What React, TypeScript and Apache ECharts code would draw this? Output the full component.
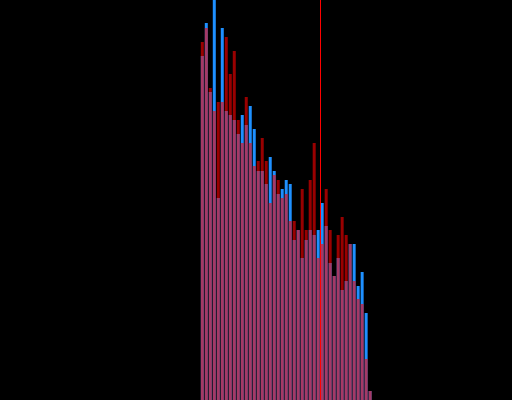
import React, { useEffect, useRef } from "react";
import * as echarts from "echarts";

// histogram bins 0..127; data present from bin 50 onward
const BIN_COUNT = 128;
const FIRST_BIN = 50;
const blueCounts = [344, 377, 308, 400, 202, 372, 289, 285, 280, 266, 285, 275, 294, 271, 229, 229, 216, 243, 229, 206, 211, 220, 216, 160, 170, 142, 160, 170, 165, 170, 197, 174, 137, 124, 142, 110, 119, 156, 156, 114, 128, 87, 9];
const redCounts = [358, 372, 312, 289, 298, 298, 363, 326, 349, 280, 257, 303, 257, 234, 239, 262, 239, 197, 225, 220, 202, 206, 179, 179, 170, 211, 170, 220, 257, 142, 156, 211, 170, 124, 165, 183, 165, 156, 119, 101, 96, 41, 9];
const markerBin = 80;
const yMax = 400;

const categories: string[] = [];
for (let i = 0; i < BIN_COUNT; i++) categories.push(String(i));

function pad(vals: number[]): (number | null)[] {
  const out: (number | null)[] = [];
  for (let i = 0; i < BIN_COUNT; i++) {
    const j = i - FIRST_BIN;
    out.push(j >= 0 && j < vals.length ? vals[j] : null);
  }
  return out;
}

export default function App() {
  const ref = useRef<HTMLDivElement>(null);
  useEffect(() => {
    if (!ref.current) return;
    const chart = echarts.init(ref.current, undefined, { renderer: "svg" });
    chart.setOption({
      animation: false,
      backgroundColor: "#000000",
      grid: { left: 0.5, right: -0.5, top: 0, bottom: 0, containLabel: false },
      xAxis: [
        { type: "category", data: categories, show: false, boundaryGap: true },
        { type: "value", min: 0, max: BIN_COUNT, show: false },
      ],
      yAxis: { type: "value", min: 0, max: yMax, show: false },
      series: [
        {
          type: "bar",
          data: pad(blueCounts),
          barWidth: 3,
          barGap: "-100%",
          itemStyle: { color: "#1e90ff" },
          silent: true,
        },
        {
          type: "bar",
          data: pad(redCounts),
          barWidth: 3,
          barGap: "-100%",
          itemStyle: { color: "rgba(255,0,0,0.6)" },
          silent: true,
        },
      ],
    });
    const px = chart.convertToPixel({ xAxisIndex: 1 }, markerBin) as number;
    const top = chart.convertToPixel({ yAxisIndex: 0 }, yMax) as number;
    const bottom = chart.convertToPixel({ yAxisIndex: 0 }, 0) as number;
    const x = Math.floor(px) + 0.5;
    chart.setOption({
      graphic: [
        {
          type: "line",
          shape: { x1: x, y1: top, x2: x, y2: bottom },
          style: { stroke: "#ff0000", lineWidth: 1 },
          z: 100,
          silent: true,
        },
      ],
    });
    return () => chart.dispose();
  }, []);
  return (
    <div
      ref={ref}
      style={{ position: "fixed", left: 0, top: 0, width: 512, height: 400, background: "#000" }}
    />
  );
}
